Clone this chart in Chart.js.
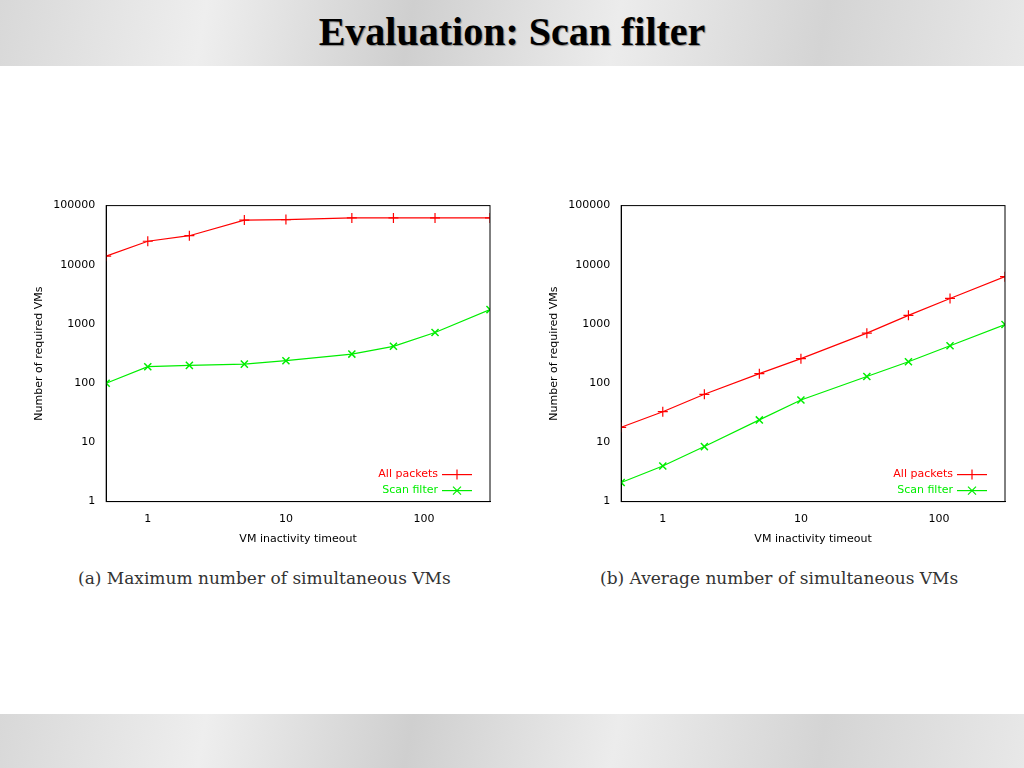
<!DOCTYPE html>
<html><head><meta charset="utf-8">
<script src="https://cdn.jsdelivr.net/npm/chart.js@4"></script>
<style>
body{margin:0;width:1024px;height:768px;position:relative;background:#fff;overflow:hidden;font-family:"Liberation Serif",serif}
.band{position:absolute;left:0;width:1024px;height:66px;background:linear-gradient(100deg,#d8d8d8,#eeeeee 20%,#cfcfcf 40%,#ececec 60%,#d4d4d4 80%,#e8e8e8)}
h1{position:absolute;top:8px;left:0;width:1024px;text-align:center;margin:0;font:bold 40px "Liberation Serif",serif;color:#000;text-shadow:1px 1px 1px #888}
.cap{position:absolute;top:568px;font:17px "DejaVu Serif",serif;color:#333}
.wrap{position:absolute;top:196px;width:469px;height:354px}
</style></head><body>
<div class="band" style="top:0"></div>
<div class="band" style="top:714px;height:54px"></div>
<h1>Evaluation: Scan filter</h1>
<div class="wrap" style="left:29px"><canvas id="c1"></canvas></div>
<div class="wrap" style="left:544px"><canvas id="c2"></canvas></div>
<div class="cap" style="left:78px">(a) Maximum number of simultaneous VMs</div>
<div class="cap" style="left:600px">(b) Average number of simultaneous VMs</div>
<script>
const timeouts=[0.5,1,2,5,10,30,60,120,300];
const maxAll=[14000,25000,31000,57000,58000,62000,62000,62000,62000];
const maxScan=[100,190,200,210,240,310,420,720,1750];
const avgAll=[18,33,65,145,260,700,1400,2700,6300];
const avgScan=[2.1,4.0,8.5,24,52,130,230,430,980];
const yTicks=[1,10,100,1000,10000,100000];
const xTicks=[1,10,100];
const legendPlugin={id:'lg',afterDraw(ch){const c=ch.ctx,a=ch.chartArea;c.save();c.font='11px "DejaVu Sans"';c.textAlign='right';c.textBaseline='middle';
ch.data.datasets.forEach((d,i)=>{const y=a.bottom-27+i*16,x=a.right-22;c.fillStyle=d.borderColor;c.fillText(d.label,x-30,y);c.strokeStyle=d.borderColor;c.lineWidth=1.2;c.beginPath();c.moveTo(x-26,y);c.lineTo(x+4,y);c.stroke();
const m=x-11;c.beginPath();if(i==0){c.moveTo(m,y-5);c.lineTo(m,y+5);}else{c.moveTo(m-4,y-4);c.lineTo(m+4,y+4);c.moveTo(m-4,y+4);c.lineTo(m+4,y-4);}c.stroke();});c.restore();}};
function mk(id,a,b){new Chart(document.getElementById(id),{type:'line',
data:{datasets:[{label:'All packets',data:timeouts.map((x,i)=>({x,y:a[i]})),borderColor:'#ff0000',borderWidth:1.2,pointStyle:'cross',pointRadius:5,pointBorderWidth:1.2},
{label:'Scan filter',data:timeouts.map((x,i)=>({x,y:b[i]})),borderColor:'#00ee00',borderWidth:1.2,pointStyle:'crossRot',pointRadius:5,pointBorderWidth:1.5}]},
options:{animation:false,responsive:true,maintainAspectRatio:false,layout:{padding:{right:8,top:5}},
plugins:{legend:{display:false},tooltip:{enabled:false}},
scales:{x:{type:'logarithmic',min:0.5,max:300,border:{color:'#000'},grid:{display:false,drawTicks:true},
afterBuildTicks(s){s.ticks=xTicks.map(v=>({value:v}));},ticks:{color:'#000',font:{size:11,family:'DejaVu Sans'},maxRotation:0,callback:v=>String(v)},
title:{display:true,text:'VM inactivity timeout',color:'#000',font:{size:11,family:'DejaVu Sans'}}},
y:{type:'logarithmic',min:1,max:100000,border:{color:'#000'},grid:{display:false},
afterBuildTicks(s){s.ticks=yTicks.map(v=>({value:v}));},ticks:{color:'#000',font:{size:11,family:'DejaVu Sans'},callback:v=>String(v)},
title:{display:true,text:'Number of required VMs',color:'#000',font:{size:11,family:'DejaVu Sans'}}}}},
plugins:[legendPlugin,{id:'box',afterDraw(ch){const c=ch.ctx,a=ch.chartArea;c.save();c.strokeStyle='#000';c.lineWidth=1;c.strokeRect(a.left,a.top,a.right-a.left,a.bottom-a.top);c.restore();}}]});}
mk('c1',maxAll,maxScan);mk('c2',avgAll,avgScan);
</script></body></html>
